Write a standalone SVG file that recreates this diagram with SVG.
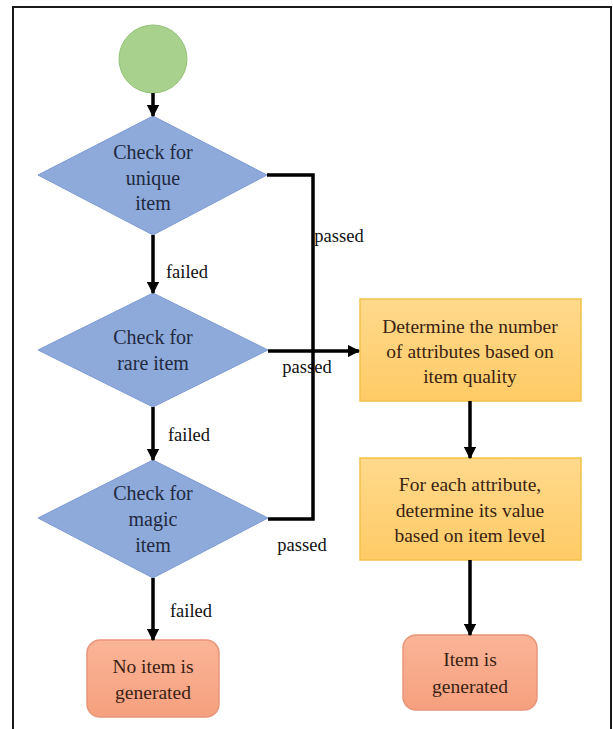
<svg xmlns="http://www.w3.org/2000/svg" width="613" height="729" viewBox="0 0 613 729">
<style>
text{font-family:'Liberation Serif','Times New Roman',serif}
.t{text-anchor:middle}
.dt{font-size:20px;fill:#1f2940}
.bt{font-size:19.5px;fill:#3a1f12}
.lb{font-size:18.5px;fill:#111;text-anchor:middle}
.dia{fill:#8eaadb;stroke:#7e9bd2;stroke-width:1}
.box{fill:url(#gy);stroke:#f2c24a;stroke-width:1.5}
.term{fill:url(#gs);stroke:#e8957a;stroke-width:1.5}
.edge{fill:none;stroke:#000;stroke-width:3.5}
</style>
<defs>
<linearGradient id="gy" x1="0" y1="0" x2="0" y2="1">
<stop offset="0" stop-color="#ffd98c"/>
<stop offset="1" stop-color="#ffcb66"/>
</linearGradient>
<linearGradient id="gs" x1="0" y1="0" x2="0" y2="1">
<stop offset="0" stop-color="#fbb497"/>
<stop offset="1" stop-color="#f5a07e"/>
</linearGradient>
<marker id="ah" viewBox="0 0 10 10" refX="9" refY="5" markerWidth="3.5" markerHeight="3.5" orient="auto" markerUnits="strokeWidth">
<path d="M0,0 L10,5 L0,10 Z" fill="#000"/>
</marker>
</defs>
<rect width="613" height="729" fill="#fff"/>
<path d="M13,729 V7 H611 V729" fill="none" stroke="#1a1a1a" stroke-width="2"/>

<g id="labels-under">
<text class="lb" x="339" y="242">passed</text>
<text class="lb" x="307" y="373">passed</text>
</g>

<g id="start">
<circle cx="153" cy="59" r="34" fill="#a9d18e" stroke="#93c277" stroke-width="1"/>
</g>

<g id="unique">
<polygon class="dia" points="153,116 267,175 153,235 38,175"/>
<text class="t dt" x="153" y="159">Check for</text>
<text class="t dt" x="153" y="185">unique</text>
<text class="t dt" x="153" y="210">item</text>
</g>

<g id="rare">
<polygon class="dia" points="153,293 268,350 153,407 38,350"/>
<text class="t dt" x="153" y="344">Check for</text>
<text class="t dt" x="153" y="370">rare item</text>
</g>

<g id="magic">
<polygon class="dia" points="153,460 268,518 153,578 38,518"/>
<text class="t dt" x="153" y="500">Check for</text>
<text class="t dt" x="153" y="526">magic</text>
<text class="t dt" x="153" y="552">item</text>
</g>

<g id="noitem">
<rect class="term" x="87" y="640" width="132" height="77" rx="13"/>
<text class="t bt" x="153" y="673">No item is</text>
<text class="t bt" x="153" y="699">generated</text>
</g>

<g id="numattr">
<rect class="box" x="360" y="299" width="221" height="102"/>
<text class="t bt" x="470" y="333">Determine the number</text>
<text class="t bt" x="470" y="358">of attributes based on</text>
<text class="t bt" x="470" y="383">item quality</text>
</g>

<g id="attrval">
<rect class="box" x="360" y="458" width="221" height="102"/>
<text class="t bt" x="470" y="491">For each attribute,</text>
<text class="t bt" x="470" y="517">determine its value</text>
<text class="t bt" x="470" y="542">based on item level</text>
</g>

<g id="item">
<rect class="term" x="403" y="635" width="134" height="75" rx="13"/>
<text class="t bt" x="470" y="666">Item is</text>
<text class="t bt" x="470" y="693">generated</text>
</g>

<g id="connectors">
<line class="edge" x1="153" y1="93" x2="153" y2="116" marker-end="url(#ah)"/>
<line class="edge" x1="153" y1="235" x2="153" y2="293" marker-end="url(#ah)"/>
<line class="edge" x1="153" y1="407" x2="153" y2="460" marker-end="url(#ah)"/>
<line class="edge" x1="153" y1="578" x2="153" y2="640" marker-end="url(#ah)"/>
<path class="edge" d="M267,175 H313 V519 H268"/>
<line class="edge" x1="268" y1="351" x2="359" y2="351" marker-end="url(#ah)"/>
<line class="edge" x1="470" y1="401" x2="470" y2="458" marker-end="url(#ah)"/>
<line class="edge" x1="470" y1="560" x2="470" y2="635" marker-end="url(#ah)"/>
</g>

<g id="labels">
<text class="lb" x="187" y="278">failed</text>
<text class="lb" x="189" y="441">failed</text>
<text class="lb" x="302" y="551">passed</text>
<text class="lb" x="191" y="617">failed</text>
</g>
</svg>
